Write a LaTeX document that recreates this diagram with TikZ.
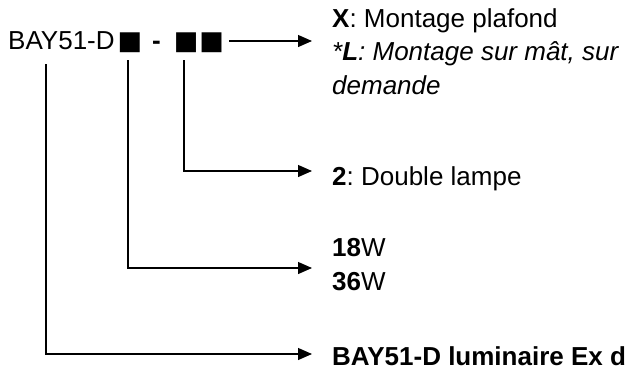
\documentclass[tikz,border=0pt]{standalone}
\usepackage{fontspec}
\setmainfont{Liberation Sans}
\newfontfamily\symfont{DejaVu Sans}
\usetikzlibrary{arrows.meta}
\frenchspacing
\newcommand{\blksq}{{\symfont\fontsize{26}{33}\selectfont ■}}
\begin{document}
\begin{tikzpicture}[x=1pt,y=-1pt,
  txt/.style={anchor=base west, inner sep=0pt, align=left,
    font=\fontsize{26}{33.5}\selectfont\frenchspacing},
  conn/.style={line width=1.2pt, -{Triangle[length=14pt,width=12pt]}}]
\useasboundingbox (0,0) rectangle (638,365);
% code
\node[txt] (code) at (8,49) {BAY51-D\hspace{3pt}\blksq\hspace{10pt}\textbf{-}\hspace{13pt}\blksq\hspace{1pt}\blksq};
% descriptions
\node[txt] (d1) at (332,94) {\textbf{X}: Montage plafond\\
  \textit{*\textbf{L}: Montage sur mât, sur}\\
  \textit{demande}};
\node[txt] (d2) at (332,185) {\textbf{2}: Double lampe};
\node[txt] (d3) at (332,290) {\textbf{18}W\\\textbf{36}W};
\node[txt] (d4) at (332,365) {\textbf{BAY51-D luminaire Ex d}};
% connector ends
\coordinate (t1) at (312,41);
\coordinate (t2) at (312,171);
\coordinate (t3) at (312,268);
\coordinate (t4) at (312,354);
\coordinate (c1) at (46,64);
\coordinate (c2) at (128,60);
\coordinate (c3) at (184,60);
\draw[conn] ([xshift=5pt]code.east |- t1) -- (t1);
\draw[conn] (c3) |- (t2);
\draw[conn] (c2) |- (t3);
\draw[conn] (c1) |- (t4);
\end{tikzpicture}
\end{document}
